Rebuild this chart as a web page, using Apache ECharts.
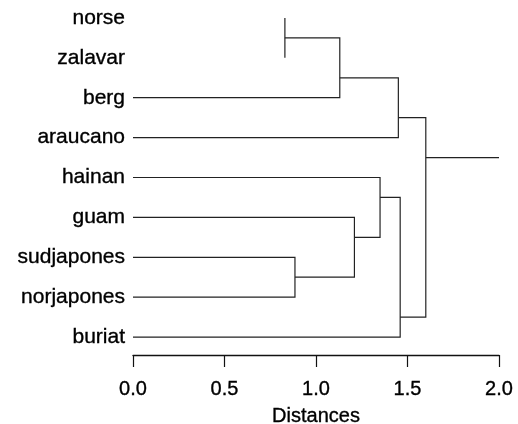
<!DOCTYPE html>
<html>
<head>
<meta charset="utf-8">
<script src="https://cdn.jsdelivr.net/npm/echarts@6/dist/echarts.min.js"></script>
<style>
html,body{margin:0;padding:0;background:#fff;}
#chart{width:518px;height:424px;}
</style>
</head>
<body>
<div id="chart"></div>
<script>
// Leaves (top to bottom)
const leafNames = ['norse', 'zalavar', 'berg', 'araucano', 'hainan', 'guam', 'sudjapones', 'norjapones', 'buriat'];
// Merges: cluster indices (0-8 leaves, 9+ = earlier merges in order), join distance, drawn row
const mergeLeft = [0, 9, 10, 6, 5, 4, 14, 11];
const mergeRight = [1, 2, 3, 7, 12, 13, 8, 15];
const mergeDistance = [0.83, 1.13, 1.45, 0.885, 1.21, 1.35, 1.46, 1.60];
const mergeRow = [0.5, 1.5, 2.5, 6.5, 5.5, 4.5, 7.5, 3.5];
const rootStemEnd = 2.0;
// leaves whose stems are not printed in the reference
const stemlessLeaves = ['norse', 'zalavar'];
const xTicks = [0.0, 0.5, 1.0, 1.5, 2.0];
const axisTitle = 'Distances';

const heights = leafNames.map(() => 0).concat(mergeDistance);
const rows = leafNames.map((_, i) => i).concat(mergeRow);
const stemless = i => i < leafNames.length && stemlessLeaves.indexOf(leafNames[i]) >= 0;

const links = [];
mergeLeft.forEach((a, k) => {
  const b = mergeRight[k];
  const h = mergeDistance[k];
  const pts = [];
  if (!stemless(a)) pts.push([heights[a], rows[a]]);
  pts.push([h, rows[a]]);
  pts.push([h, rows[b]]);
  if (!stemless(b)) pts.push([heights[b], rows[b]]);
  links.push({ coords: pts });
});
const rootIdx = heights.length - 1;
links.push({ coords: [[heights[rootIdx], rows[rootIdx]], [rootStemEnd, rows[rootIdx]]] });

const FONT = 'Liberation Sans';
const txt = { fontFamily: FONT, color: '#000', textBorderColor: '#000', textBorderWidth: 0.35 };
const chart = echarts.init(document.getElementById('chart'), null, { renderer: 'canvas' });
chart.setOption({
  animation: false,
  backgroundColor: '#fff',
  grid: { left: 133, right: 19, top: 0, bottom: 69, containLabel: false, outerBoundsMode: 'none' },
  xAxis: {
    type: 'value',
    min: xTicks[0],
    max: xTicks[xTicks.length - 1],
    interval: xTicks[1] - xTicks[0],
    name: axisTitle,
    nameLocation: 'middle',
    nameGap: 51,
    nameTextStyle: Object.assign({ fontSize: 20 }, txt),
    axisLine: { show: true, onZero: false, lineStyle: { color: '#111', width: 1.3 } },
    axisTick: { show: true, length: 12, lineStyle: { color: '#111', width: 1.2 } },
    axisLabel: Object.assign({ margin: 24, fontSize: 20, formatter: v => v.toFixed(1) }, txt),
    splitLine: { show: false }
  },
  yAxis: {
    type: 'value',
    inverse: true,
    min: -0.45,
    max: 8.45,
    axisLine: { show: false },
    axisTick: { show: false },
    splitLine: { show: false },
    axisLabel: Object.assign({
      customValues: leafNames.map((_, i) => i),
      formatter: v => leafNames[Math.round(v)],
      margin: 8,
      fontSize: 21,
      padding: [7, 0, 0, 0]
    }, txt)
  },
  series: [{
    type: 'lines',
    coordinateSystem: 'cartesian2d',
    polyline: true,
    silent: true,
    lineStyle: { color: '#222', width: 1.2, opacity: 1 },
    data: links
  }]
});
</script>
</body>
</html>
